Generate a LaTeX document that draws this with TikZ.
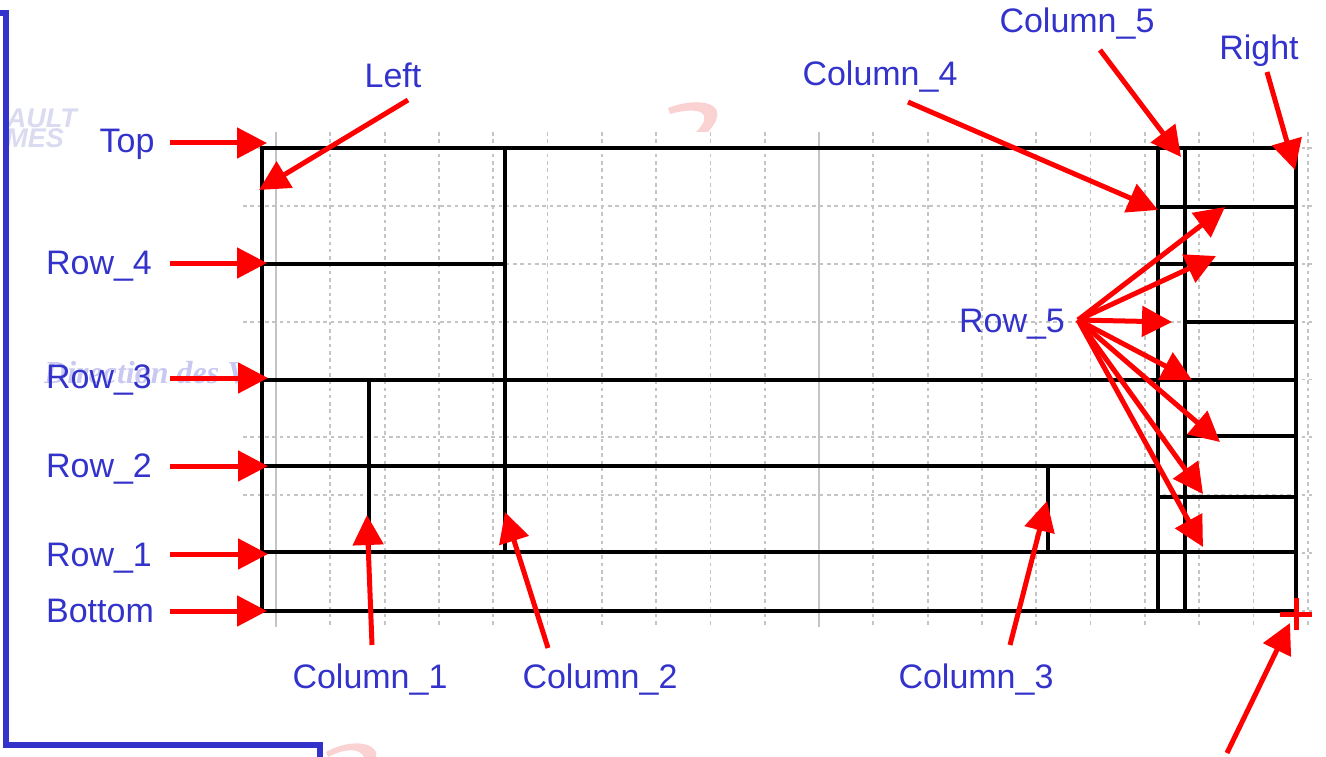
\documentclass[tikz,border=0pt]{standalone}
\usepackage{fontspec}
\setmainfont{Liberation Sans}
\newfontfamily\wmserif{Liberation Serif}
\usetikzlibrary{arrows.meta}
\definecolor{labelblue}{HTML}{3333CC}
\definecolor{gridgray}{HTML}{C4C4C4}
\definecolor{wmblue}{HTML}{DADAF0}
\definecolor{wmlav}{HTML}{C8C8F0}
\definecolor{wmpink}{HTML}{FBD2D2}

\begin{document}
\begin{tikzpicture}[x=1pt,y=-1pt,
  lbl/.style={text=labelblue,font=\fontsize{34}{40}\selectfont,anchor=base,inner sep=0pt},
  ptr/.style={red,line width=5pt,-{Triangle[length=30pt,width=30pt]}},
  wall/.style={black,line width=3.5pt,line cap=rect},
  gridmajor/.style={gridgray,line width=1.6pt},
  gridminor/.style={gridgray,line width=1.8pt,dash pattern=on 3.6pt off 3.7pt},
  framepen/.style={labelblue,line width=6pt},
  wmsans/.style={anchor=base east,inner sep=0pt,text=wmblue,font=\fontsize{27}{28}\selectfont\bfseries\itshape},
  ]
\useasboundingbox (0,0) rectangle (1326,757);

% --- faint background lettering and swooshes
\node[wmsans] (wmA) at (77,128) {AULT};
\node[wmsans] (wmB) at (64,148) {MES};
\begin{scope}
  \clip (8,300) rectangle (262,420);
  \node[anchor=base west,inner sep=0pt,text=wmlav,font=\wmserif\fontsize{32}{36}\selectfont\bfseries\itshape] (wmC) at (44,383) {Direction des V\'ehicules};
\end{scope}
\fill[wmpink] (668,108) .. controls (698,96) and (735,102) .. (708,132) -- (696,132)
  .. controls (716,112) and (698,106) .. (670,114) -- cycle;
\fill[wmpink] (326,752) .. controls (345,741) and (370,740) .. (376,752) -- (376,757) -- (364,757)
  .. controls (360,748) and (345,748) .. (328,757) -- cycle;

% --- blue frame
\draw[framepen] (0,13) -- (6,13) -- (6,745) -- (320,745) -- (320,760);

% --- grid
\fill[white] (243,132) rectangle (1315,627);
\foreach \k in {1,...,9,11,12,...,19}
  \draw[gridminor] ({276+54.3*\k},132) -- ({276+54.3*\k},627);
\draw[gridmajor] (276,132) -- (276,627);
\draw[gridmajor] (819,132) -- (819,627);
\foreach \k in {0,...,8}
  \draw[gridminor] (243,{148+57.875*\k}) -- (1315,{148+57.875*\k});

% --- layout lines
\draw[wall] (262,148) rectangle (1296,611);
\draw[wall] (262,264) -- (505,264);
\draw[wall] (505,148) -- (505,552);
\draw[wall] (262,380) -- (1296,380);
\draw[wall] (369,380) -- (369,552);
\draw[wall] (262,466) -- (1158,466);
\draw[wall] (1048,466) -- (1048,552);
\draw[wall] (262,552) -- (1296,552);
\draw[wall] (1158,148) -- (1158,611);
\draw[wall] (1185,148) -- (1185,611);
\draw[wall] (1158,207) -- (1296,207);
\draw[wall] (1158,264) -- (1296,264);
\draw[wall] (1185,322) -- (1296,322);
\draw[wall] (1185,436) -- (1296,436);
\draw[wall] (1158,497) -- (1296,497);

% --- corner mark
\draw[red,line width=5pt] (1280,614) -- (1312,614);
\draw[red,line width=5pt] (1296,598) -- (1296,630);

% --- labels
\node[lbl] (lTop) at (127,153) {Top};
\node[lbl] (lRow4) at (99,274) {Row\_4};
\node[lbl] (lRow3) at (99,388) {Row\_3};
\node[lbl] (lRow2) at (99,477) {Row\_2};
\node[lbl] (lRow1) at (99,566) {Row\_1};
\node[lbl] (lBottom) at (100,622) {Bottom};
\node[lbl] (lLeft) at (393,88) {Left};
\node[lbl] (lCol1) at (370,688) {Column\_1};
\node[lbl] (lCol2) at (600,688) {Column\_2};
\node[lbl] (lCol3) at (976,688) {Column\_3};
\node[lbl] (lCol4) at (880,86) {Column\_4};
\node[lbl] (lCol5) at (1077,33) {Column\_5};
\node[lbl] (lRight) at (1259,60) {Right};
\node[lbl] (lRow5) at (1012,332) {Row\_5};

% --- pointer ends
\coordinate (tTop) at (170,143);    \coordinate (hTop) at (267,143);
\coordinate (tRow4) at (170,263);   \coordinate (hRow4) at (267,263);
\coordinate (tRow3) at (170,378);   \coordinate (hRow3) at (268,378);
\coordinate (tRow2) at (170,466);   \coordinate (hRow2) at (268,466);
\coordinate (tRow1) at (170,554);   \coordinate (hRow1) at (268,554);
\coordinate (tBottom) at (170,611); \coordinate (hBottom) at (267,611);
\coordinate (tLeft) at (408,100);   \coordinate (hLeft) at (259,190);
\coordinate (tCol1) at (372,645);   \coordinate (hCol1) at (367,515);
\coordinate (tCol2) at (548,648);   \coordinate (hCol2) at (505,512);
\coordinate (tCol3) at (1010,645);  \coordinate (hCol3) at (1047,501);
\coordinate (tCol4) at (908,102);   \coordinate (hCol4) at (1158,210);
\coordinate (tCol5) at (1100,50);   \coordinate (hCol5) at (1181,157);
\coordinate (tRight) at (1267,72);  \coordinate (hRight) at (1295,170);
\coordinate (tCorner) at (1227,753); \coordinate (hCorner) at (1290,623);
\coordinate (tRow5) at (1078,320);
\coordinate (hR5a) at (1225,207);
\coordinate (hR5b) at (1216,256);
\coordinate (hR5c) at (1172,322);
\coordinate (hR5d) at (1192,380);
\coordinate (hR5e) at (1220,442);
\coordinate (hR5f) at (1203,494);
\coordinate (hR5g) at (1203,547);

% --- pointers
\foreach \n in {Top,Row4,Row3,Row2,Row1,Bottom,Left,Col1,Col2,Col3,Col4,Col5,Right,Corner}
  \draw[ptr] (t\n) -- (h\n);
\foreach \n in {a,b,c,d,e,f,g}
  \draw[ptr] (tRow5) -- (hR5\n);
\end{tikzpicture}
\end{document}
